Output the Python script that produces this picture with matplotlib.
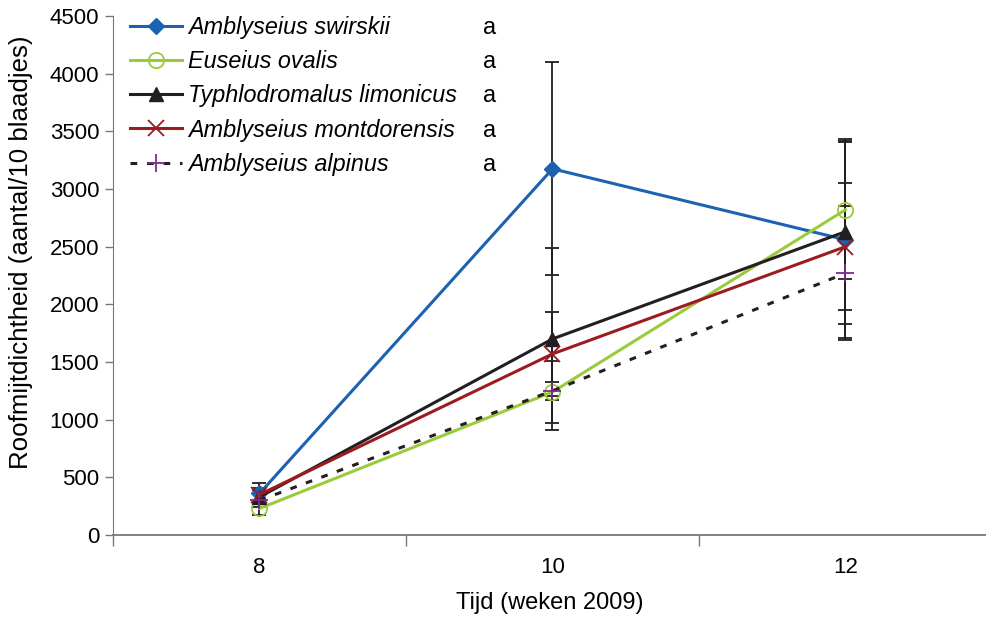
import numpy as np
import matplotlib.pyplot as plt

plt.rcParams['font.family'] = ['Liberation Sans', 'DejaVu Sans']

weeks = ['8', '10', '12']
species = ['Amblyseius swirskii', 'Euseius ovalis', 'Typhlodromalus limonicus',
           'Amblyseius montdorensis', 'Amblyseius alpinus']
letters = ['a', 'a', 'a', 'a', 'a']

swirskii = [360, 3175, 2560]
ovalis = [230, 1240, 2820]
limonicus = [330, 1700, 2630]
montdorensis = [350, 1570, 2500]
alpinus = [300, 1250, 2270]

swirskii_err = [90, 925, 850]
ovalis_err = [60, 270, 600]
limonicus_err = [60, 790, 800]
montdorensis_err = [60, 365, 550]
alpinus_err = [60, 80, 580]

series = [swirskii, ovalis, limonicus, montdorensis, alpinus]
errors = [swirskii_err, ovalis_err, limonicus_err, montdorensis_err, alpinus_err]
styles = [
    dict(color='#1b62b0', ls='-', marker='D', ms=8, mfc='#1b62b0', mec='#1b62b0'),
    dict(color='#9acb3c', ls='-', marker='o', ms=11, mfc='none', mec='#9acb3c', mew=1.3),
    dict(color='#231f20', ls='-', marker='^', ms=10, mfc='#231f20', mec='#231f20'),
    dict(color='#9b1c20', ls='-', marker='x', ms=11, mec='#9b1c20', mew=1.3),
    dict(color='#231f20', ls=(0, (2.2, 3.2)), marker='+', ms=13, mec='#7b2c8b', mew=1.3),
]

fig = plt.figure(figsize=(9.87, 6.21), dpi=100)
ax = fig.add_axes([113 / 987, 86 / 621, 874 / 987, 519 / 621])

x = np.arange(len(weeks))
for vals, err in zip(series, errors):
    ax.errorbar(x, vals, yerr=err, fmt='none', ecolor='#231f20', elinewidth=1.3,
                capsize=5, capthick=1.3, zorder=1)

handles = []
for vals, name, st in zip(series, species, styles):
    h, = ax.plot(x, vals, lw=2.2, label=name, zorder=3, **st)
    handles.append(h)

ax.set_xlim(-0.5, 2.483)
ax.set_ylim(0, 4500)
ax.set_yticks(np.arange(0, 4501, 500))
ax.set_xticks(x)
ax.set_xticklabels(weeks)
ax.set_xticks([-0.5, 0.5, 1.5], minor=True)
ax.tick_params(axis='x', which='major', length=0, pad=16, labelsize=16)
ax.tick_params(axis='x', which='minor', length=8, width=1, color='#777777', direction='out')
ax.tick_params(axis='y', length=6, width=1, color='#777777', labelsize=16, pad=4)

for side in ['top', 'right']:
    ax.spines[side].set_visible(False)
ax.spines['left'].set_color('#777777')
ax.spines['bottom'].set_color('#777777')
ax.spines['bottom'].set_linewidth(1.3)

ax.set_xlabel('Tijd (weken 2009)', fontsize=17, labelpad=10)
ax.set_ylabel('Roofmijtdichtheid (aantal/10 blaadjes)', fontsize=18.6)
ax.yaxis.set_label_coords(-80 / 874, 0.545)

leg = ax.legend(handles=handles, loc='upper left', bbox_to_anchor=(17 / 874, 1.0),
                frameon=False, prop=dict(size=16.8, style='italic'),
                handlelength=2.23, handletextpad=0.26, labelspacing=0.48,
                borderaxespad=0, borderpad=0)

fig.canvas.draw()
inv = ax.transAxes.inverted()
for t, letter in zip(leg.get_texts(), letters):
    bb = t.get_window_extent()
    cy = inv.transform((0, (bb.y0 + bb.y1) / 2))[1]
    ax.text((490 - 113) / 874, cy, letter, transform=ax.transAxes,
            ha='center', va='center', fontsize=16.8)

fig.savefig('out.png', dpi=100)
